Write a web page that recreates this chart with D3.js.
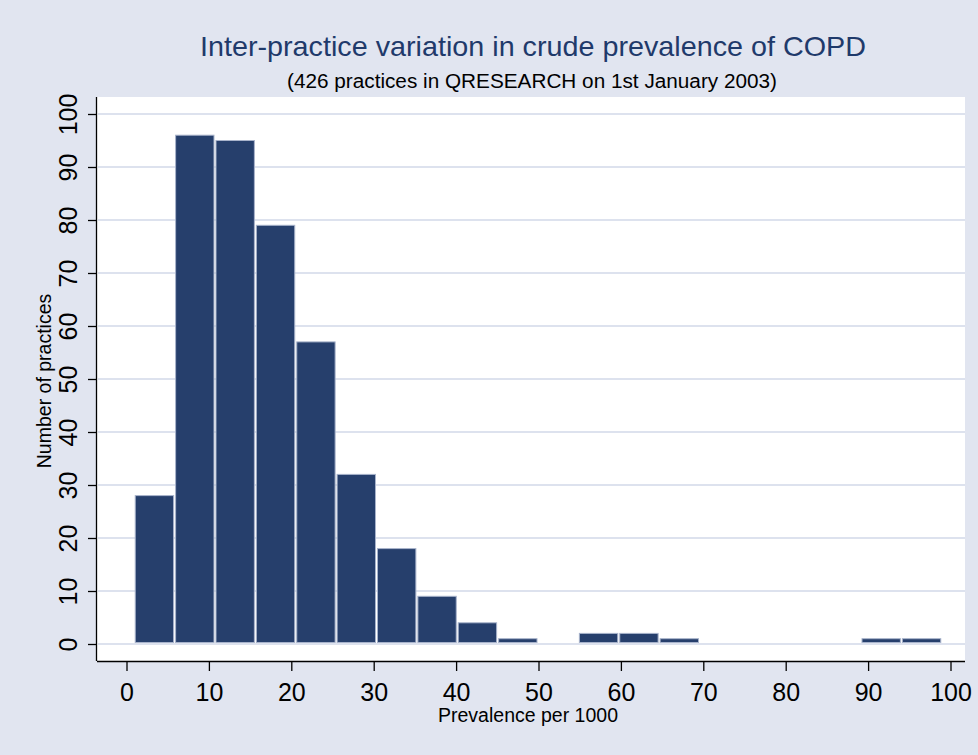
<!doctype html>
<html lang="en">
    <head>
        <meta charset="utf-8">
        <script src="https://d3js.org/d3.v7.min.js"></script>
        <style>
            body { margin: 0; background: #e1e5f0; }
            text { font-family: "Liberation Sans", Arial, sans-serif; }
        </style>
    </head>
    <body>
        <div id="my_dataviz"></div>
        <script>
            // Histogram: bins start at 1.0, width 4.9 (per 1000)
            var binStart = 1.0
            var binWidth = 4.9
            var counts = [28, 96, 95, 79, 57, 32, 18, 9, 4, 1, 0, 2, 2, 1, 0, 0, 0, 0, 1, 1]
            var xTicks = [0, 10, 20, 30, 40, 50, 60, 70, 80, 90, 100]
            var yTicks = [0, 10, 20, 30, 40, 50, 60, 70, 80, 90, 100]

            var width = 978
            var height = 755

            var svg = d3.select("#my_dataviz")
              .append("svg")
              .attr("width", width)
              .attr("height", height)

            svg.append("rect")
                .attr("width", width).attr("height", height)
                .attr("fill", "#e1e5f0")

            // plot region
            var plot = { left: 97, right: 965, top: 97, bottom: 661 }

            svg.append("rect")
                .attr("x", plot.left).attr("y", plot.top)
                .attr("width", plot.right - plot.left)
                .attr("height", plot.bottom - plot.top)
                .attr("fill", "white")

            var x = d3.scaleLinear().domain([0, 100]).range([126.5, 950.5])
            var y = d3.scaleLinear().domain([0, 100]).range([644, 114])

            // gridlines
            svg.append("g")
                .selectAll("line")
                .data(yTicks)
                .enter()
                .append("line")
                    .attr("x1", plot.left + 1).attr("x2", plot.right)
                    .attr("y1", function(d){ return y(d) })
                    .attr("y2", function(d){ return y(d) })
                    .attr("stroke", "#dde2ee")
                    .attr("stroke-width", 2)

            // bars
            var bins = counts.map(function(c, i){
                return { x0: binStart + i * binWidth, x1: binStart + (i + 1) * binWidth, n: c }
            })

            svg.append("g")
                .selectAll("rect")
                .data(bins.filter(function(d){ return d.n > 0 }))
                .enter()
                .append("rect")
                    .attr("x", function(d){ return x(d.x0) + 0.5 })
                    .attr("width", function(d){ return x(d.x1) - x(d.x0) - 2 })
                    .attr("y", function(d){ return y(d.n) })
                    .attr("height", function(d){ return y(0) - 1.5 - y(d.n) })
                    .attr("fill", "#263f6c")
                    .attr("stroke", "#a8b3cb")
                    .attr("stroke-width", 1)

            // axes
            var xAxis = svg.append("g")
                .attr("transform", "translate(0," + plot.bottom + ")")
                .call(d3.axisBottom(x).tickValues(xTicks).tickSize(10).tickPadding(0))
            xAxis.select(".domain").attr("d", "M" + plot.left + ",0.5H" + plot.right)
            xAxis.selectAll("text")
                .attr("font-size", 25).attr("fill", "black")
                .style("font-family", "Liberation Sans")
                .attr("dy", null).attr("y", 40)

            var yAxis = svg.append("g")
                .attr("transform", "translate(" + plot.left + ",0)")
                .call(d3.axisLeft(y).tickValues(yTicks).tickSize(9).tickPadding(6))
            yAxis.select(".domain").attr("d", "M-0.5," + plot.top + "V" + plot.bottom)
            yAxis.selectAll("text")
                .attr("font-size", 25).attr("fill", "black")
                .style("font-family", "Liberation Sans")
                .attr("text-anchor", "middle")
                .attr("x", null).attr("dy", null)
                .attr("transform", "translate(-20.5,0) rotate(-90)")
                .attr("y", 0)
            svg.selectAll(".domain, .tick line").attr("stroke", "black").attr("stroke-width", 1.3)

            // titles
            svg.append("text")
                .attr("x", 533).attr("y", 56)
                .attr("text-anchor", "middle")
                .attr("font-size", 28)
                .attr("fill", "#1f3a6b")
                .attr("textLength", 666)
                .attr("lengthAdjust", "spacingAndGlyphs")
                .text("Inter-practice variation in crude prevalence of COPD")

            svg.append("text")
                .attr("x", 532).attr("y", 88)
                .attr("text-anchor", "middle")
                .attr("font-size", 19.5)
                .attr("fill", "black")
                .attr("textLength", 490)
                .attr("lengthAdjust", "spacingAndGlyphs")
                .text("(426 practices in QRESEARCH on 1st January 2003)")

            svg.append("text")
                .attr("x", 528).attr("y", 722)
                .attr("text-anchor", "middle")
                .attr("font-size", 19.5)
                .attr("fill", "black")
                .text("Prevalence per 1000")

            svg.append("text")
                .attr("transform", "translate(51,381) rotate(-90)")
                .attr("text-anchor", "middle")
                .attr("font-size", 19.5)
                .attr("fill", "black")
                .text("Number of practices")
        </script>
    </body>
</html>
